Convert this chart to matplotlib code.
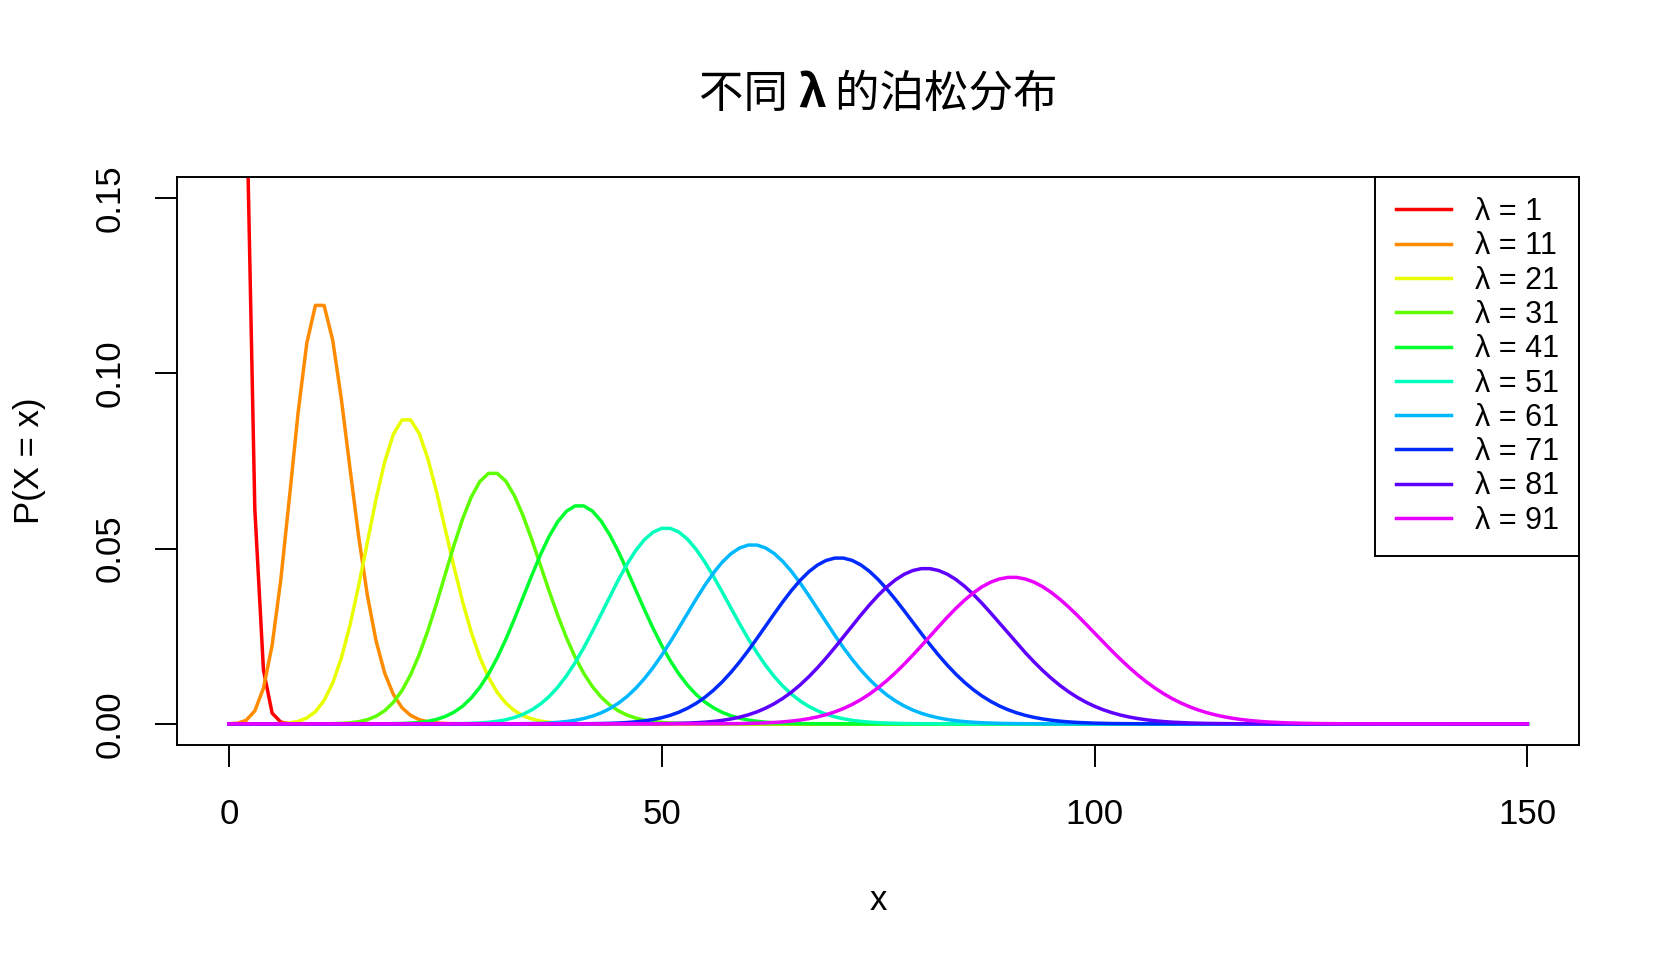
import math
import numpy as np
import matplotlib
matplotlib.use('Agg')
import matplotlib.pyplot as plt

# data: lambda values and x range of the plotted Poisson pmfs
lambdas = [1, 11, 21, 31, 41, 51, 61, 71, 81, 91]
x_vals = np.arange(0, 151)
x_ticks = [0, 50, 100, 150]
y_ticks = [0.00, 0.05, 0.10, 0.15]
y_ticklabels = ['0.00', '0.05', '0.10', '0.15']

colors = ['#FF0000', '#FF8C00', '#E8FF00', '#5EFF00', '#00FF2F',
          '#00FFBB', '#00B8FF', '#002AFF', '#5D00FF', '#EA00FF']

plt.rcParams['font.family'] = ['Liberation Sans', 'DejaVu Sans']

W, H = 1671, 967
fig = plt.figure(figsize=(W / 100, H / 100), dpi=100)
L, R, T, B = 176.9, 1579.3, 177.0, 744.9
ax = fig.add_axes([L / W, 1 - B / H, (R - L) / W, (B - T) / H])

log_fact = np.array([math.lgamma(k + 1) for k in x_vals])
for lam, c in zip(lambdas, colors):
    pmf = np.exp(x_vals * np.log(lam) - lam - log_fact)
    ax.plot(x_vals, pmf, color=c, lw=2.5, label=f'λ = {lam}')

ax.set_xlim(-6, 156)
ax.set_ylim(-0.006, 0.156)
ax.set_xticks(x_ticks)
ax.set_xticklabels([str(v) for v in x_ticks])
ax.set_yticks(y_ticks)
ax.set_yticklabels(y_ticklabels, rotation=90, va='center')
ax.tick_params(axis='both', length=16, width=1.4, labelsize=25, color='black')
ax.tick_params(axis='x', pad=22)
ax.tick_params(axis='y', pad=20)
for s in ax.spines.values():
    s.set_linewidth(1.4)

leg = ax.legend(loc='upper right', borderaxespad=0, fancybox=False,
                edgecolor='black', fontsize=22, handlelength=1.8,
                handletextpad=0.8, labelspacing=0.14, borderpad=0.66)
leg.get_frame().set_linewidth(1.4)
leg.get_frame().set_alpha(1)

fig.text((L + R) / 2 / W, 1 - 900 / H, 'x', fontsize=25, ha='center', va='center')
fig.text(29 / W, 1 - (T + B) / 2 / H, 'P(X = x)', fontsize=25, ha='center',
         va='center', rotation=90)

# title with bold lambda
parts = [('不同 ', 'normal'), ('λ', 'bold'), (' 的泊松分布', 'normal')]
fam = ['Noto Sans CJK SC', 'DejaVu Sans']
texts = []
for s, w in parts:
    texts.append(fig.text(0, 1 - 94 / H, s, fontsize=32, fontweight=w,
                          family=fam, ha='left', va='center'))
fig.canvas.draw()
rend = fig.canvas.get_renderer()
widths = [t.get_window_extent(rend).width for t in texts]
x0 = (L + R) / 2 - sum(widths) / 2
for t, wd in zip(texts, widths):
    t.set_x(x0 / W)
    x0 += wd

fig.savefig('out.png', dpi=100)
